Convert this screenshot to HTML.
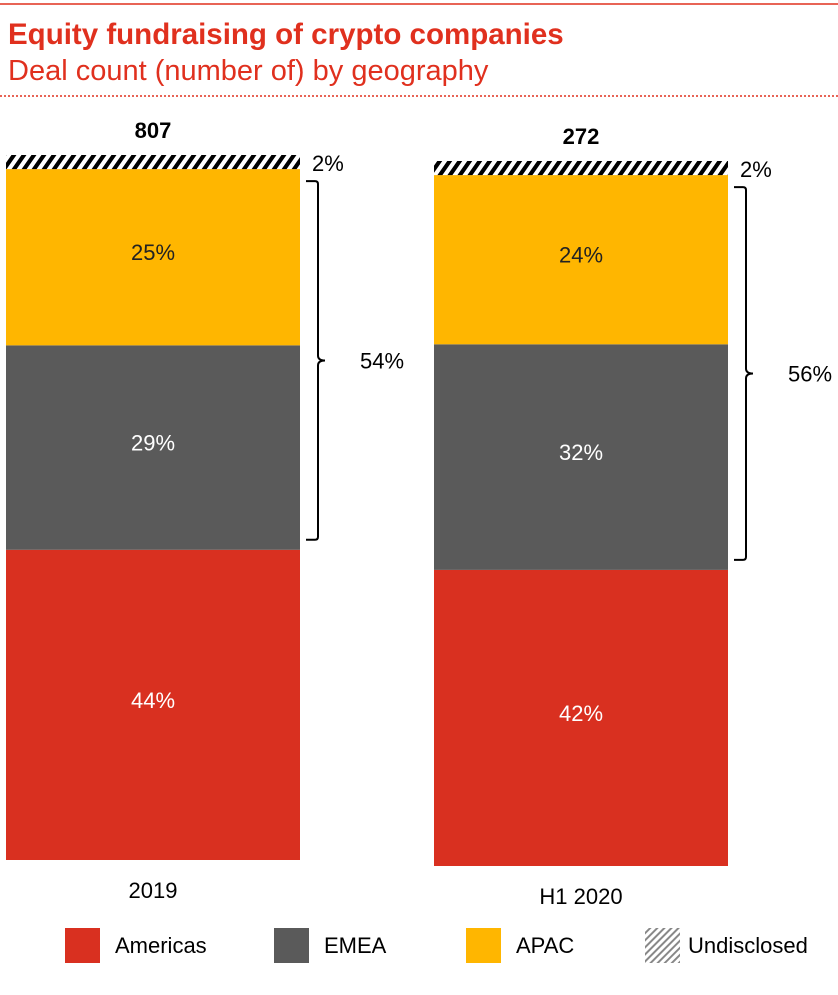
<!DOCTYPE html>
<html><head><meta charset="utf-8"><style>
body{margin:0;background:#fff;width:838px;height:990px;overflow:hidden;font-family:"Liberation Sans",Arial,sans-serif}
</style></head><body>
<svg id="chart" width="838" height="990" xmlns="http://www.w3.org/2000/svg" font-family="Liberation Sans, Arial, sans-serif">
<defs>
<pattern id="hatchTop" width="10" height="14" patternUnits="userSpaceOnUse" patternTransform="skewX(-35)">
<rect x="0" y="0" width="5" height="14" fill="#000"/></pattern>
<pattern id="hatchLeg" width="5" height="5" patternUnits="userSpaceOnUse" patternTransform="rotate(45)">
<rect x="0" y="0" width="2" height="5" fill="#888"/></pattern>
</defs>
<line x1="0" y1="4" x2="838" y2="4" stroke="#e0301e" stroke-width="1.5"/>
<text x="8" y="44" font-size="29.5" font-weight="bold" fill="#e0301e">Equity fundraising of crypto companies</text>
<text x="8" y="80" font-size="29" fill="#e0301e">Deal count (number of) by geography</text>
<line x1="0" y1="96" x2="838" y2="96" stroke="#e0301e" stroke-width="1.5" stroke-dasharray="2,2"/>
<g id="bars"></g>
<g id="legend"></g>
</svg>
<script>
const categories = ["2019", "H1 2020"];
const totals = ["807", "272"];
const americas = [44, 42];
const emea = [29, 32];
const apac = [25, 24];
const undisclosed = [2, 2];
const bracketLabels = ["54%", "56%"];

const NS = "http://www.w3.org/2000/svg";
const svg = document.getElementById("bars");
const barX = [6, 434], barW = 294, baseY = [860, 866], scale = 7.05;
function y(v, i){ return baseY[i] - v * scale; }
function mk(tag, attrs, parent){ const e=document.createElementNS(NS,tag); for(const k in attrs) e.setAttribute(k,attrs[k]); (parent||svg).appendChild(e); return e; }
const series = [
 {name:"americas", vals:americas, color:"#d93020", tc:"#fff"},
 {name:"emea", vals:emea, color:"#5a5a5a", tc:"#fff"},
 {name:"apac", vals:apac, color:"#ffb600", tc:"#222"},
 {name:"undisclosed", vals:undisclosed, color:"url(#hatchTop)", tc:null}
];
categories.forEach((c,i)=>{
  let cum=0;
  series.forEach(s=>{
    const v=s.vals[i];
    const r=mk("rect",{x:barX[i],y:y(cum+v,i),width:barW,height:v*scale,fill:s.color});
    
    
    if(s.tc){
      const t=mk("text",{x:barX[i]+barW/2,y:y(cum+v/2,i)+3,"font-size":"22","text-anchor":"middle",fill:s.tc});
      t.textContent=v+"%";
      
      
    } else {
      const t=mk("text",{x:barX[i]+barW+12,y:y(cum+v,i)+16,"font-size":"22",fill:"#000"});
      t.textContent=v+"%";
      
      
    }
    cum+=v;
  });
  const top=y(cum,i);
  const tt=mk("text",{x:barX[i]+barW/2,y:top-17,"font-size":"22","font-weight":"bold","text-anchor":"middle"});
  tt.textContent=totals[i];
  
  
  const cl=mk("text",{x:barX[i]+barW/2,y:baseY[i]+38,"font-size":"22","text-anchor":"middle"});
  cl.textContent=c;
  
  
  const y1=y(americas[i]+emea[i]+apac[i],i)+12, y2=y(americas[i],i)-10;
  const bx=barX[i]+barW+6, bw=12, mid=(y1+y2)/2;
  const p=mk("path",{d:`M${bx},${y1} h${bw-3} q3,0 3,3 V${mid-5} q0,5 7,5 q-7,0 -7,5 V${y2-3} q0,3 -3,3 h-${bw-3}`,fill:"none",stroke:"#000","stroke-width":"2"});
  
  
  const bl=mk("text",{x:bx+bw+42,y:mid+8,"font-size":"22"});
  bl.textContent=bracketLabels[i];
  
  
});
const leg=document.getElementById("legend");
const legItems=[["Americas","#d93020",65],["EMEA","#5a5a5a",274],["APAC","#ffb600",466],["Undisclosed","url(#hatchLeg)",645]];
legItems.forEach(l=>{
  const r=mk("rect",{x:l[2],y:928,width:35,height:35,fill:l[1]},leg);
  
  
  const t=mk("text",{x:l[2]+(l[0]==="Undisclosed"?43:50),y:953,"font-size":"22"},leg);
  t.textContent=l[0];
  
  
});
</script>
</body></html>
